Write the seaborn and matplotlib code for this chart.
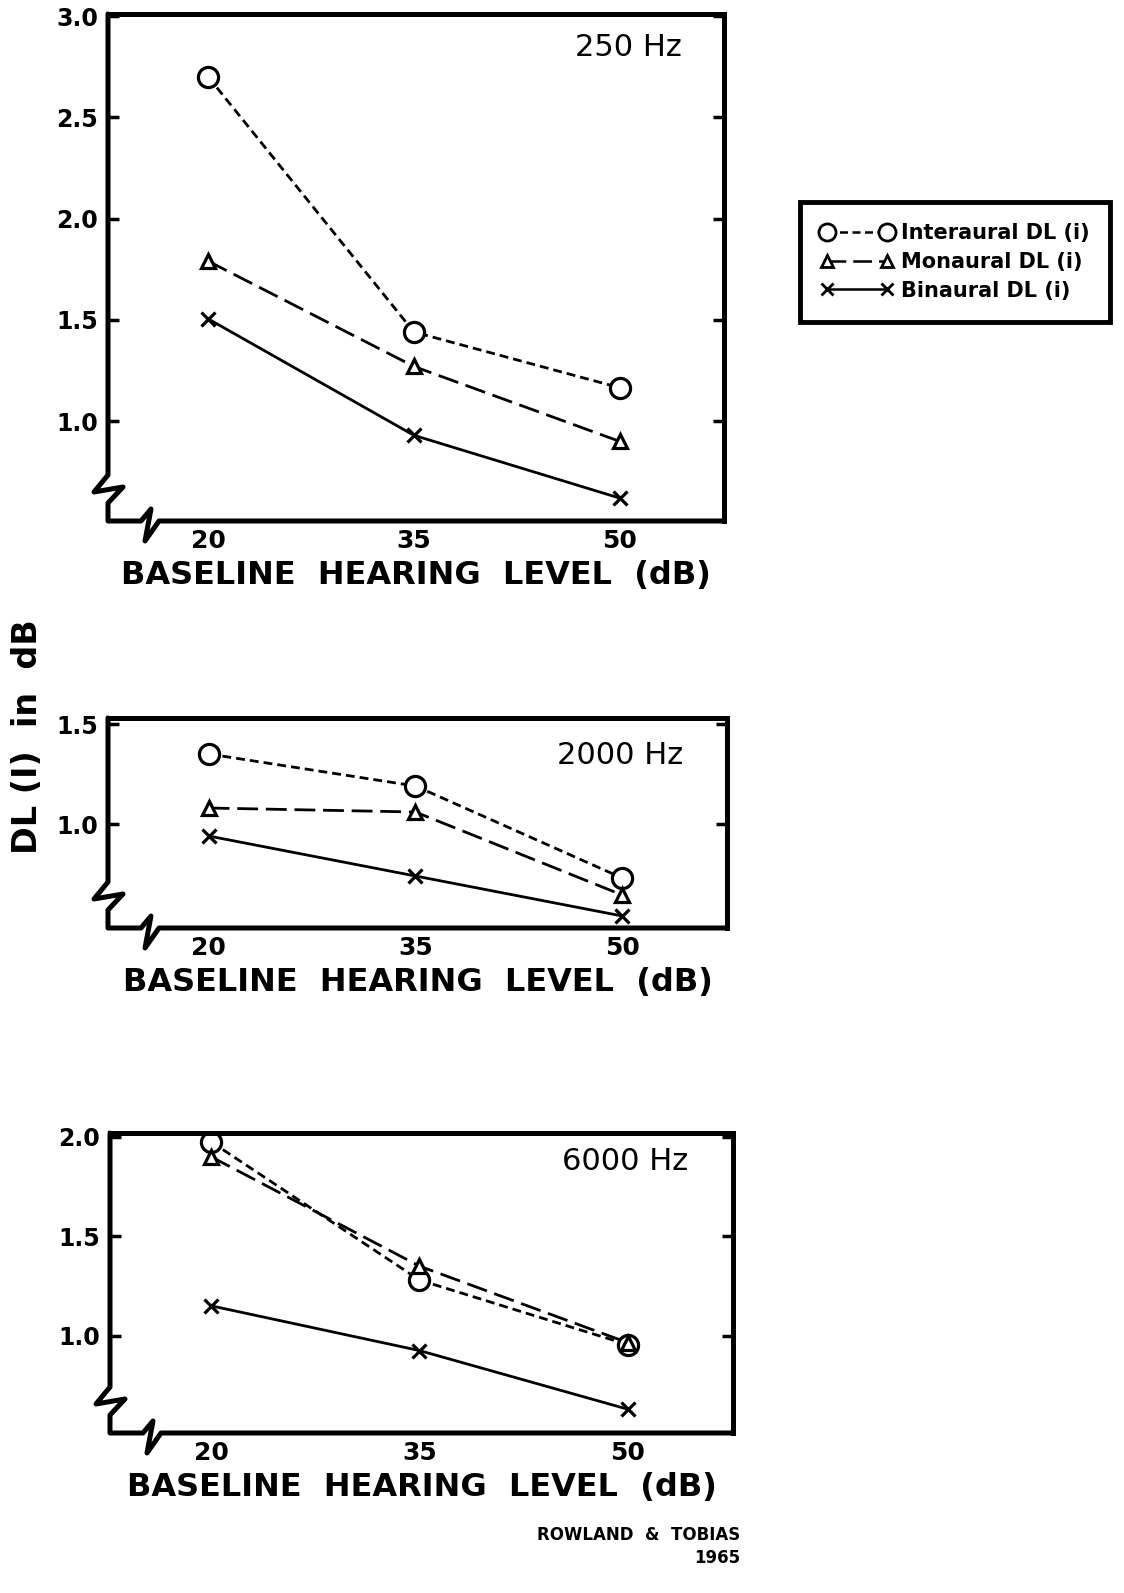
import pandas as pd
import matplotlib
matplotlib.use("Agg")
import matplotlib.pyplot as plt
from matplotlib.lines import Line2D
import seaborn as sns

LEVELS = [20, 35, 50]
SERIES = ["Interaural", "Monaural", "Binaural"]

# DL(I) in dB
interaural_250 = [2.70, 1.44, 1.165]
monaural_250 = [1.79, 1.27, 0.90]
binaural_250 = [1.505, 0.93, 0.62]

interaural_2000 = [1.35, 1.19, 0.73]
monaural_2000 = [1.08, 1.06, 0.645]
binaural_2000 = [0.94, 0.74, 0.54]

interaural_6000 = [1.975, 1.28, 0.955]
monaural_6000 = [1.90, 1.35, 0.965]
binaural_6000 = [1.15, 0.925, 0.63]

FREQS = ["250 Hz", "2000 Hz", "6000 Hz"]
Y_TICKS = [[1.0, 1.5, 2.0, 2.5, 3.0], [1.0, 1.5], [1.0, 1.5, 2.0]]
Y_TICK_LABELS = [["1.0", "1.5", "2.0", "2.5", "3.0"], ["1.0", "1.5"], ["1.0", "1.5", "2.0"]]
X_TICK_LABELS = ["20", "35", "50"]
LEGEND_LABELS = ["Interaural DL (i)", "Monaural DL (i)", "Binaural DL (i)"]

panel_values = {
    "250 Hz": [interaural_250, monaural_250, binaural_250],
    "2000 Hz": [interaural_2000, monaural_2000, binaural_2000],
    "6000 Hz": [interaural_6000, monaural_6000, binaural_6000],
}

rows = []
for freq, vals in panel_values.items():
    for name, ys in zip(SERIES, vals):
        for lvl, y in zip(LEVELS, ys):
            rows.append({"freq": freq, "series": name, "level": lvl, "dl": y})
df = pd.DataFrame(rows)

STYLE = {
    "Interaural": dict(marker="o", markersize=14.5, linestyle=(0, (3.2, 1.8))),
    "Monaural": dict(marker="^", markersize=10.5, linestyle=(0, (7.5, 2.8))),
    "Binaural": dict(marker="x", markersize=10, linestyle="-"),
}

sns.set_style("white")
plt.rcParams["font.family"] = ["DejaVu Sans"]
plt.rcParams["text.color"] = "black"
plt.rcParams["axes.labelcolor"] = "black"
plt.rcParams["xtick.color"] = "black"
plt.rcParams["ytick.color"] = "black"

W, H = 1124, 1593
fig = plt.figure(figsize=(W / 100, H / 100), dpi=100)


def box(x0, y0, x1, y1):
    return [x0 / W, 1 - y1 / H, (x1 - x0) / W, (y1 - y0) / H]


boxes = [box(108, 14, 724, 521), box(108, 718, 727, 928), box(110, 1133, 733, 1433)]
ylims = [(0.507, 3.01), (0.48, 1.53), (0.51, 2.02)]
title_pos = [(628, 47), (620, 755), (625, 1162)]
lw_spine = 3.6

for i, freq in enumerate(FREQS):
    ax = fig.add_axes(boxes[i])
    sub = df[df["freq"] == freq]
    for name in SERIES:
        sns.lineplot(
            data=sub[sub["series"] == name], x="level", y="dl",
            color="black", lw=2.0, errorbar=None, legend=False,
            markerfacecolor="white", markeredgecolor="black",
            markeredgewidth=2.3, ax=ax, **STYLE[name]
        )
    ax.set_xlim(12.7, 57.6)
    ax.set_ylim(*ylims[i])
    ax.set_xticks(LEVELS)
    ax.set_xticklabels(X_TICK_LABELS, fontsize=18, fontweight="bold")
    ax.set_yticks(Y_TICKS[i])
    ax.set_yticklabels(Y_TICK_LABELS[i], fontsize=17, fontweight="bold")
    ax.tick_params(axis="x", length=0, pad=6)
    ax.tick_params(axis="y", left=True, right=True, direction="in",
                   length=8, width=2.5, pad=7, color="black")
    ax.set_ylabel("")
    ax.set_xlabel("BASELINE  HEARING  LEVEL  (dB)", fontsize=23,
                  fontweight="bold", labelpad=5)
    for s in ["top", "right"]:
        ax.spines[s].set_linewidth(lw_spine)
        ax.spines[s].set_color("black")
    ax.spines["left"].set_visible(False)
    ax.spines["bottom"].set_visible(False)

    # left and bottom spines with axis-break zigzags (pixel offsets)
    wpx = boxes[i][2] * W
    hpx = boxes[i][3] * H
    pts = [(0, hpx), (0, 46), (-14, 29), (15, 34), (0, 18), (0, 0),
           (33, 0), (43, 12), (37, -20), (51, 0), (wpx, 0)]
    ax.plot([p[0] / wpx for p in pts], [p[1] / hpx for p in pts],
            transform=ax.transAxes, clip_on=False, color="black",
            lw=lw_spine, solid_joinstyle="round", solid_capstyle="round")

    tx, ty = title_pos[i]
    fig.text(tx / W, 1 - ty / H, freq, fontsize=22, ha="center", va="center")

fig.text(28 / W, 1 - 737 / H, "DL (I)  in  dB", fontsize=24, fontweight="bold",
         rotation=90, ha="center", va="center")

handles = [
    Line2D([], [], color="black", lw=1.8, markerfacecolor="white",
           markeredgecolor="black", markeredgewidth=2.0,
           marker=STYLE[n]["marker"], markersize=STYLE[n]["markersize"] * 0.85,
           linestyle=STYLE[n]["linestyle"])
    for n in SERIES
]
leg = fig.legend(handles, LEGEND_LABELS, loc="center",
                 bbox_to_anchor=(955 / W, 1 - 262 / H), numpoints=2,
                 handlelength=3.5, handletextpad=0.35, labelspacing=0.42,
                 borderpad=1.0, fancybox=False, framealpha=1,
                 prop={"weight": "bold", "size": 15})
leg.get_frame().set_edgecolor("black")
leg.get_frame().set_linewidth(3.5)

fig.text(740 / W, 1 - 1535 / H, "ROWLAND  &  TOBIAS", fontsize=12,
         fontweight="bold", ha="right", va="center")
fig.text(740 / W, 1 - 1558 / H, "1965", fontsize=12,
         fontweight="bold", ha="right", va="center")

fig.savefig("out.png", dpi=100)
